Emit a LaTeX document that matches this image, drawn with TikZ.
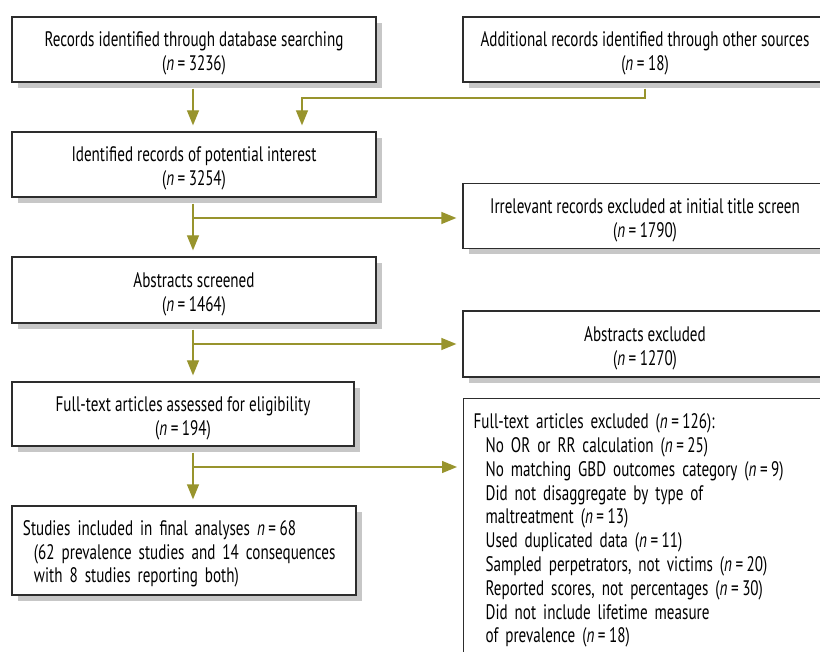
\documentclass[tikz,border=0pt]{standalone}
\usepackage{fontspec}
\setmainfont[FakeStretch=0.72]{PT Sans}
\usetikzlibrary{arrows.meta}
\definecolor{flowolive}{RGB}{152,148,45}
\definecolor{boxline}{RGB}{45,45,45}
\newcommand{\ncount}[1]{(\textit{n}\,=\,#1)}
\begin{document}
\begin{tikzpicture}[x=1pt, y=-1pt, font=\fontsize{21}{23.8}\selectfont,
    stagebox/.style={draw=boxline, line width=1.3pt, fill=white, align=center,
      inner sep=0pt},
    pairbox/.style={stagebox, text height=47pt},
    listbox/.style={stagebox, align=left, text height=22pt},
    flowline/.style={draw=flowolive, line width=1.3pt,
      -{Triangle[length=15pt,width=12pt]}, shorten >=6pt},
    frombox/.style={flowline, shorten <=6pt}]
			%%%%% FRAME %%%%%
			\useasboundingbox (0,0) rectangle (820,652);
			\fill[white] (0,0) rectangle (820,652);
			
			%%%%% SHADOWS %%%%%
			\fill[black!22] (18,23) rectangle (382,88);
			\fill[black!22] (469,23) rectangle (820,88);
			\fill[black!22] (18,138) rectangle (382,203);
			\fill[black!22] (469,189.5) rectangle (820,254.5);
			\fill[black!22] (18,263) rectangle (382,329);
			\fill[black!22] (469,317) rectangle (820,383);
			\fill[black!22] (18,388) rectangle (360,452);
			\fill[black!22] (18,512) rectangle (362,601);
			
			%%%%% BOXES %%%%%
			\node[pairbox, minimum width=364pt, minimum height=65pt] (db) at (194,49.5)
				{Records identified through database searching\\\ncount{3236}};
			\node[pairbox, minimum width=364pt, minimum height=65pt] (other) at (645,49.5)
				{Additional records identified through other sources\\\ncount{18}};
			
			\node[pairbox, minimum width=364pt, minimum height=65pt] (interest) at (194,164.5)
				{Identified records of potential interest\\\ncount{3254}};
			\node[pairbox, minimum width=364pt, minimum height=65pt] (irrelevant) at (645,216)
				{Irrelevant records excluded at initial title screen\\\ncount{1790}};
			
			\node[pairbox, minimum width=364pt, minimum height=66pt] (screened) at (194,290)
				{Abstracts screened\\\ncount{1464}};
			\node[pairbox, minimum width=364pt, minimum height=66pt] (absout) at (645,344)
				{Abstracts excluded\\\ncount{1270}};
			
			\node[pairbox, minimum width=342pt, minimum height=64pt] (assessed) at (183,414)
				{Full-text articles assessed for eligibility\\\ncount{194}};
			\node[listbox, anchor=north west, text width=344pt,
				inner xsep=10pt, inner ysep=8pt, text depth=300pt] (ftout) at (463,398)
				{Full-text articles excluded \ncount{126}:\\
				\hspace*{12pt}No OR or RR calculation \ncount{25}\\
				\hspace*{12pt}No matching GBD outcomes category \ncount{9}\\
				\hspace*{12pt}Did not disaggregate by type of\\
				\hspace*{12pt}maltreatment \ncount{13}\\
				\hspace*{12pt}Used duplicated data \ncount{11}\\
				\hspace*{12pt}Sampled perpetrators, not victims \ncount{20}\\
				\hspace*{12pt}Reported scores, not percentages \ncount{30}\\
				\hspace*{12pt}Did not include lifetime measure\\
				\hspace*{12pt}of prevalence \ncount{18}};
			
			\node[listbox, text width=322pt, inner xsep=11pt,
				minimum height=89pt] (included) at (184,550.5)
				{Studies included in final analyses \textit{n}\,=\,68\\
				\hspace*{11pt}(62 prevalence studies and 14 consequences\\
				\hspace*{11pt}with 8 studies reporting both)};
			
			%%%%% ARROWS %%%%%
			\coordinate (trunk) at (193,0);
			\coordinate (merge) at (302,98);
			\coordinate (split1) at (193,218);
			\coordinate (split2) at (193,344);
			\coordinate (split3) at (193,467);
			
			\draw[frombox] (db.south -| trunk) -- (interest.north -| trunk);
			\draw[frombox] (other.south) |- (merge) -- (merge |- interest.north);
			
			\draw[frombox] (interest.south -| trunk) -- (screened.north -| trunk);
			\draw[flowline] (split1) -- (split1 -| irrelevant.west);
			
			\draw[frombox] (screened.south -| trunk) -- (assessed.north -| trunk);
			\draw[flowline] (split2) -- (split2 -| absout.west);
			
			\draw[frombox] (assessed.south -| trunk) -- (included.north -| trunk);
			\draw[flowline] (split3) -- (split3 -| ftout.west);
\end{tikzpicture}
\end{document}
